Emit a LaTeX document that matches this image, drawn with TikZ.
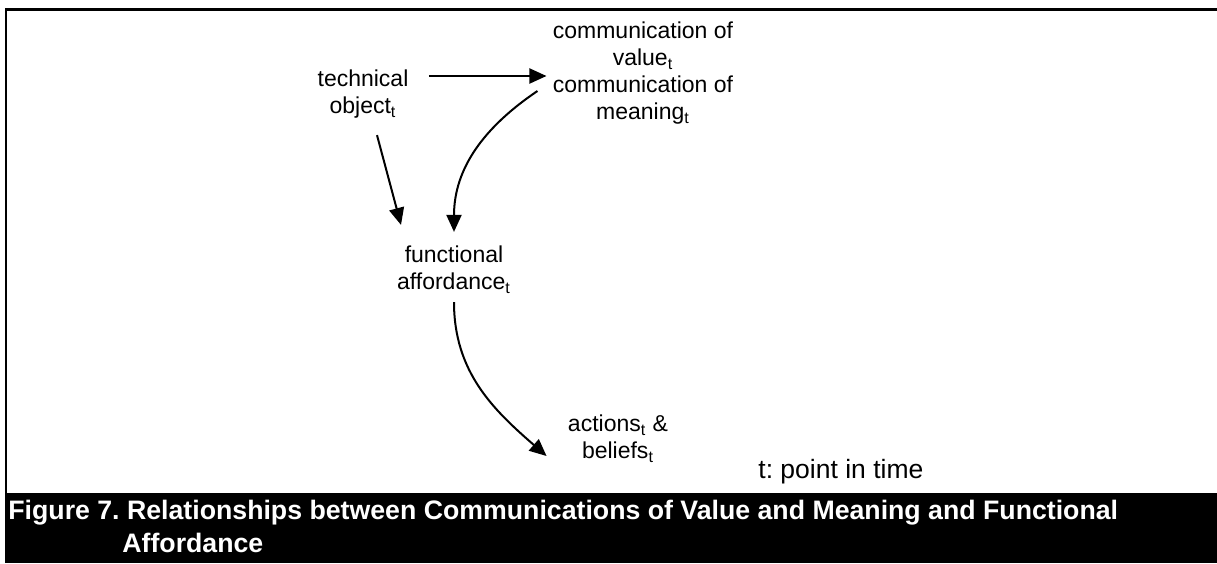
\documentclass[tikz,border=0pt]{standalone}
\usepackage{fontspec}
\setmainfont{Liberation Sans}
\frenchspacing
\usetikzlibrary{arrows.meta}
\tikzstyle{term} = [inner sep=0pt, align=center, font=\fontsize{11.5}{13.5}\selectfont]
\tikzstyle{note} = [inner sep=0pt, anchor=west, font=\fontsize{13.25}{15}\selectfont]
\tikzstyle{captxt} = [inner sep=0pt, anchor=west, text=white, font=\bfseries\fontsize{13.35}{15}\selectfont]
\tikzstyle{arrow} = [line width=1pt, -{Triangle[length=8.5pt,width=7.5pt]}]

\begin{document}
\begin{tikzpicture}[x=0.5pt,y=0.5pt]
    \useasboundingbox (0,0) rectangle (1217,-563);
    % frame and caption band
    \draw[line width=1.2pt] (6.2,-493) -- (6.2,-9.5) -- (1217,-9.5);
    \fill[black] (5,-493) rectangle (1217,-563);

    \node (tech) [term] at (363,-94.5) {technical\\object\textsubscript{t}};
    \node (comm) [term] at (643,-73.5) {communication of\\value\textsubscript{t}\\communication of\\meaning\textsubscript{t}};
    \node (func) [term] at (454,-270) {functional\\affordance\textsubscript{t}};
    \node (acts) [term] at (618,-439) {actions\textsubscript{t} \&\\beliefs\textsubscript{t}};
    \node (tnote) [note] at (758,-472) {t: point in time};

    % arrows between the terms
    \draw [arrow, shorten <=10pt, shorten >=3pt] ([yshift=9.25pt]tech.east) -- ([yshift=9.25pt]tech.east -| comm.west);
    \draw [arrow] ([xshift=7pt,yshift=-8pt]tech.south) -- ([xshift=-26.5pt,yshift=10.5pt]func.north);
    \draw [arrow] ([xshift=-7.5pt,yshift=-8.75pt]comm.west) to[out=214,in=90] ([yshift=7pt]func.north);
    \draw [arrow] ([yshift=-4pt]func.south) to[out=-90,in=139] ([xshift=-10.5pt,yshift=-8.5pt]acts.west);

    % caption
    \node (cap1) [captxt] at (8,-513) {Figure 7. Relationships between Communications of Value and Meaning and Functional};
    \node (cap2) [captxt] at (122,-543) {Affordance};
\end{tikzpicture}
\end{document}
